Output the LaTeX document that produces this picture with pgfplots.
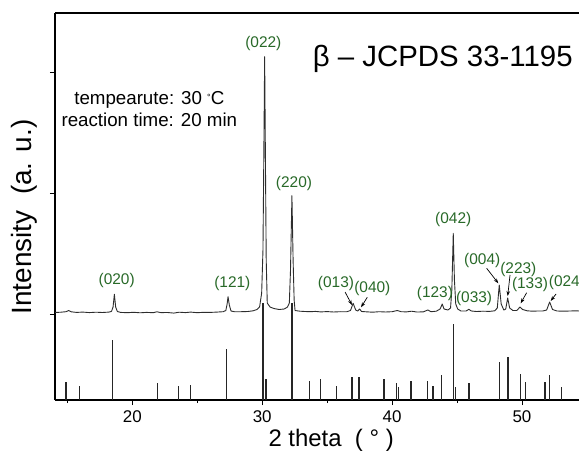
\documentclass[border=0pt]{standalone}
\usepackage{fontspec}
\setmainfont{Liberation Sans}
\usepackage{pgfplots}
\pgfplotsset{compat=1.18}
\usetikzlibrary{arrows.meta}

\definecolor{hklgreen}{RGB}{40,105,40}
\definecolor{curvegray}{RGB}{45,45,45}

\begin{document}
\begin{tikzpicture}
\begin{axis}[
  scale only axis, width=524bp, height=387bp,
  xmin=14.05, xmax=54.39, ymin=0, ymax=387,
  axis x line=box, axis y line=left,
  axis line style={-, line width=1.1bp},
  xtick pos=bottom,
  xtick={20,30,40,50}, minor xtick={15,25,35,45},
  ytick={86,207,328}, yticklabels={},
  tick align=outside,
  major tick length=5bp, minor tick length=3bp,
  tick style={line width=0.9bp, black},
  /pgf/number format/assume math mode=true,
  tick label style={font=\fontsize{17}{20}\selectfont},
  xticklabel style={yshift=-2bp},
  xlabel={2 theta\ \ ( ° )},
  ylabel={Intensity\ \ (a. u.)},
  xlabel style={font=\fontsize{24}{28}\selectfont, at={(axis description cs:0.527,-0.103)}, anchor=center},
  ylabel style={font=\fontsize{28}{32}\selectfont, at={(axis description cs:-0.059,0.473)}, anchor=center},
]
% JCPDS 33-1195 reference lines
\addplot[ycomb, line width=1.5bp, black!85] coordinates {
(14.90,18) (15.94,13.7) (18.46,60) (21.93,17.4) (23.57,13.7) (24.50,14.7)
(27.27,51) (30.07,97) (30.30,21) (32.31,97) (33.66,19) (34.49,20.7)
(35.72,14) (36.93,23) (37.47,23) (39.36,20.7) (40.34,17.3) (40.49,13.3)
(41.47,19) (42.73,19) (43.14,14) (43.81,24.7) (44.73,75.7) (44.89,13.3)
(45.91,16.7) (48.25,38) (48.91,43.3) (49.87,26) (50.28,17.7) (51.77,17.7)
(52.13,24.7) (53.05,13.3)
};
% measured pattern
\addplot[curvegray, line width=0.9bp, line join=round] coordinates {
(14.05,87.5) (14.5,87.8) (14.9,88.3) (15.1,89.5) (15.3,88.2) (15.7,87.6)
(16.2,87.9) (16.7,87.4) (17.2,87.8) (17.7,87.5) (18.2,87.9) (18.4,88.6)
(18.52,93) (18.62,105.7) (18.72,93) (18.85,88.5) (19.1,87.6) (19.6,87.3)
(20.1,87.7) (20.6,87.2) (21.1,87.6) (21.6,87.3) (21.9,88.2) (22.2,87.4)
(22.7,87.5) (23.2,86.9) (23.6,87.8) (24.1,87.4) (24.5,87.9) (25.0,87.3)
(25.5,87.7) (26.0,87.6) (26.5,87.9) (27.0,88.3) (27.2,89.5) (27.3,96)
(27.37,103.3) (27.47,95) (27.6,89) (27.9,88.2) (28.4,88.3) (28.9,88.5)
(29.3,89.2) (29.6,90.5) (29.8,93) (29.96,107) (30.06,150) (30.13,250)
(30.19,343.3) (30.25,240) (30.31,140) (30.39,97) (30.6,93) (30.9,91.5)
(31.3,90.5) (31.7,91) (31.95,93) (32.09,97) (32.18,130) (32.29,204.3)
(32.38,140) (32.46,100) (32.53,89.5) (32.9,88.8) (33.3,88.5) (33.7,88.3)
(34.1,88.6) (34.5,88.1) (35.0,88.4) (35.5,88.0) (36.0,88.3) (36.5,88.2)
(36.8,89.5) (37.0,96.7) (37.2,90) (37.35,89) (37.5,91) (37.65,88.5)
(38.0,88.2) (38.5,87.8) (39.0,88.3) (39.5,88.0) (40.0,88.3) (40.4,89.5)
(40.7,88.3) (41.1,88.1) (41.5,88.8) (41.9,88.0) (42.4,88.1) (42.75,90)
(43.0,88.3) (43.4,88.8) (43.7,91) (43.86,96) (44.0,91) (44.3,90)
(44.5,92) (44.6,110) (44.71,166.7) (44.8,120) (44.9,96) (45.05,91)
(45.3,89) (45.7,89) (45.91,90.7) (46.1,89) (46.5,88.5) (47.0,88.8)
(47.5,88.6) (47.9,89.2) (48.1,92) (48.25,115) (48.4,96) (48.6,90)
(48.75,91) (48.9,102) (49.05,92) (49.3,89.5) (49.6,89.5) (49.85,93)
(50.05,90.5) (50.4,89.2) (50.8,88.8) (51.2,89) (51.6,89) (51.9,90)
(52.13,98) (52.35,90.5) (52.7,89) (53.2,88.8) (53.7,89) (54.2,89.2)
(54.39,89)
};
% hkl labels
\begin{scope}[every node/.style={font=\fontsize{15.5}{17}\selectfont, text=hklgreen, inner sep=0pt}]
\node at (axis cs:18.80,119.3) {(020)};
\node at (axis cs:27.70,116.7) {(121)};
\node at (axis cs:30.09,356.7) {(022)};
\node at (axis cs:32.45,216.7) {(220)};
\node at (axis cs:35.68,116) {(013)};
\node at (axis cs:38.48,111) {(040)};
\node at (axis cs:43.30,106) {(123)};
\node at (axis cs:44.71,180) {(042)};
\node at (axis cs:46.31,101) {(033)};
\node at (axis cs:46.94,139.3) {(004)};
\node at (axis cs:49.72,130.7) {(223)};
\node at (axis cs:50.62,115) {(133)};
\node at (axis cs:53.46,117.7) {(024)};
\end{scope}
\begin{scope}[line width=0.7bp, -{Stealth[length=5bp,width=3.5bp]}]
\draw (axis cs:36.38,108) -- (axis cs:36.91,95);
\draw (axis cs:38.09,102.7) -- (axis cs:37.61,92.7);
\draw (axis cs:47.28,131.7) -- (axis cs:48.18,116.7);
\draw (axis cs:49.08,125) -- (axis cs:48.90,104);
\draw (axis cs:50.36,107.3) -- (axis cs:49.90,96.7);
\draw (axis cs:52.62,106) -- (axis cs:52.21,99);
\end{scope}
\node[font=\fontsize{29.5}{33}\selectfont] at (axis description cs:0.740,0.881) {β – JCPDS 33-1195};
\node[font=\fontsize{18.8}{22}\selectfont, align=center] at (axis description cs:0.180,0.752)
  {tempearute: 30 \raisebox{0.35ex}{\fontsize{9}{10}\selectfont °}C\\reaction time: 20 min};
\end{axis}
\pgfresetboundingbox
\path[use as bounding box] ([shift={(-55bp,-57bp)}]current axis.south west) rectangle ([shift={(0bp,13bp)}]current axis.north east);
\end{tikzpicture}
\end{document}
